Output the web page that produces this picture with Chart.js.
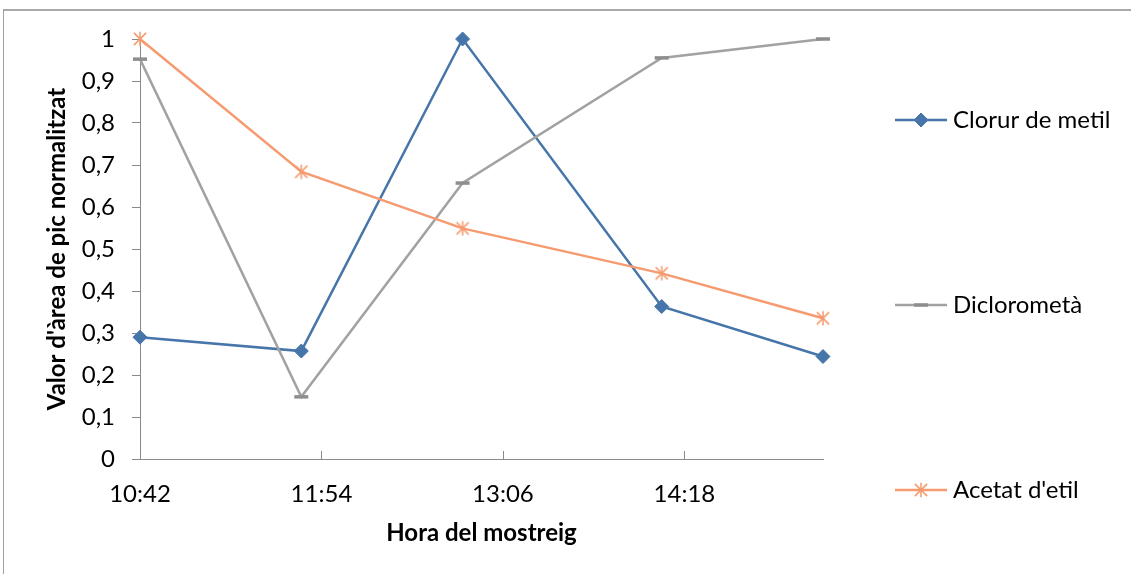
<!DOCTYPE html>
<html>
<head>
<meta charset="utf-8">
<script src="https://cdn.jsdelivr.net/npm/chart.js@4"></script>
<style>
  html, body { margin: 0; padding: 0; background: #fff; }
  #wrap { position: relative; width: 1131px; height: 574px; overflow: hidden; }
  #frame { position: absolute; left: 3px; top: 9px; width: 1200px; height: 700px;
           border-top: 2px solid #a9a9a9; border-left: 1px solid #a0a0a0; box-sizing: border-box; }
  canvas { position: absolute; left: 0; top: 0; }
</style>
</head>
<body>
<div id="wrap">
  <div id="frame"></div>
  <canvas id="c" width="1131" height="574"></canvas>
</div>
<script>
// Sampling times and normalised peak-area values per compound
const sampleTimes = ['10:42', '11:46', '12:50', '14:09', '15:13'];
const clorurMetil = [0.290, 0.257, 1.000, 0.363, 0.244];
const diclorometa = [0.952, 0.148, 0.657, 0.955, 1.000];
const acetatEtil  = [1.000, 0.684, 0.549, 0.442, 0.335];
const seriesNames = ['Clorur de metil', 'Diclorometà', "Acetat d'etil"];

// Axis tick labels
const xTickLabels = ['10:42', '11:54', '13:06', '14:18'];
const yTickLabels = ['0', '0,1', '0,2', '0,3', '0,4', '0,5', '0,6', '0,7', '0,8', '0,9', '1'];

const FONT = 'Lato';
const toMinutes = t => { const [h, m] = t.split(':').map(Number); return h * 60 + m; };
const toClock = v => { const h = Math.floor(v / 60), m = Math.round(v - h * 60); return h + ':' + String(m).padStart(2, '0'); };
const points = arr => arr.map((v, i) => ({ x: toMinutes(sampleTimes[i]), y: v }));

// Asterisk marker (X plus a vertical stroke)
function asteriskMarker(size, color) {
  const c = document.createElement('canvas');
  c.width = size; c.height = size;
  const g = c.getContext('2d');
  g.strokeStyle = color; g.lineWidth = 1.5;
  const m = size / 2, r = size / 2 - 0.8;
  g.beginPath();
  g.moveTo(m - r * 0.85, m - r * 0.85); g.lineTo(m + r * 0.85, m + r * 0.85);
  g.moveTo(m + r * 0.85, m - r * 0.85); g.lineTo(m - r * 0.85, m + r * 0.85);
  g.moveTo(m, m - r); g.lineTo(m, m + r);
  g.stroke();
  return c;
}

// Small tick marks pointing up into the plot from the x axis
const innerTicks = {
  id: 'innerTicks',
  beforeDatasetsDraw(chart, args, opts) {
    const { ctx, scales: { x }, chartArea } = chart;
    ctx.save();
    ctx.strokeStyle = opts.color; ctx.lineWidth = 1;
    x.ticks.forEach(t => {
      const px = Math.round(x.getPixelForValue(t.value)) + 0.5;
      ctx.beginPath();
      ctx.moveTo(px, chartArea.bottom);
      ctx.lineTo(px, chartArea.bottom - opts.length);
      ctx.stroke();
    });
    ctx.restore();
  }
};

// Legend stacked down the right-hand side
const sideLegend = {
  id: 'sideLegend',
  afterDraw(chart, args, opts) {
    const { ctx, chartArea } = chart;
    const x0 = chartArea.right + opts.offsetX;
    chart.data.datasets.forEach((ds, i) => {
      const y = chartArea.top + opts.firstRow + i * opts.rowGap;
      ctx.save();
      ctx.strokeStyle = ds.borderColor; ctx.lineWidth = ds.borderWidth;
      ctx.beginPath(); ctx.moveTo(x0, y); ctx.lineTo(x0 + opts.lineLength, y); ctx.stroke();
      ctx.fillStyle = ds.pointBackgroundColor; ctx.strokeStyle = ds.pointBorderColor;
      ctx.lineWidth = ds.pointBorderWidth;
      Chart.helpers.drawPoint(ctx, { pointStyle: ds.pointStyle, radius: ds.pointRadius,
        borderWidth: ds.pointBorderWidth, rotation: 0 }, x0 + opts.lineLength / 2, y);
      ctx.fillStyle = '#000';
      ctx.font = opts.font;
      ctx.textBaseline = 'middle'; ctx.textAlign = 'left';
      ctx.fillText(ds.label, x0 + opts.lineLength + opts.gap, y);
      ctx.restore();
    });
  }
};

function draw() {
  const BLUE = '#4675a9', GREY = '#a2a2a2', ORANGE = '#f69a6f';
  new Chart(document.getElementById('c'), {
    type: 'line',
    data: {
      datasets: [
        { label: seriesNames[0], data: points(clorurMetil), order: 3, clip: false,
          borderColor: BLUE, borderWidth: 2.5, pointStyle: 'rectRot', pointRadius: 7,
          pointBackgroundColor: BLUE, pointBorderColor: BLUE, pointBorderWidth: 1 },
        { label: seriesNames[1], data: points(diclorometa), order: 2, clip: false,
          borderColor: GREY, borderWidth: 2.5, pointStyle: 'line', pointRadius: 7,
          pointBackgroundColor: '#8e8e8e', pointBorderColor: '#8e8e8e', pointBorderWidth: 3.5 },
        { label: seriesNames[2], data: points(acetatEtil), order: 1, clip: false,
          borderColor: ORANGE, borderWidth: 2.5, pointStyle: asteriskMarker(16, '#f59a6e'), pointRadius: 8,
          pointBackgroundColor: ORANGE, pointBorderColor: ORANGE, pointBorderWidth: 1 }
      ]
    },
    options: {
      responsive: false,
      animation: false,
      devicePixelRatio: 1,
      layout: { padding: { top: 39, right: 308, bottom: 0, left: 0 } },
      plugins: {
        legend: { display: false },
        tooltip: { enabled: false },
        innerTicks: { color: '#8a8a8a', length: 8 },
        sideLegend: { offsetX: 72, firstRow: 81, rowGap: 185, lineLength: 52, gap: 6,
                      font: '24px ' + FONT }
      },
      elements: { line: { tension: 0 } },
      scales: {
        x: {
          type: 'linear',
          min: toMinutes(sampleTimes[0]),
          max: toMinutes(sampleTimes[sampleTimes.length - 1]),
          afterBuildTicks: s => { s.ticks = xTickLabels.map(l => ({ value: toMinutes(l) })); },
          afterFit: s => { s.height = 115; },
          ticks: { callback: v => toClock(v), autoSkip: false, maxRotation: 0,
                   color: '#000', padding: 21, font: { family: FONT, size: 24 } },
          grid: { drawOnChartArea: false, drawTicks: false },
          border: { color: '#8a8a8a', width: 1 },
          title: { display: true, text: 'Hora del mostreig', color: '#000',
                   font: { family: FONT, size: 24, weight: 'bold' }, padding: { top: 0, bottom: 26 } }
        },
        y: {
          min: 0, max: 1,
          afterBuildTicks: s => { s.ticks = yTickLabels.map(l => ({ value: parseFloat(l.replace(',', '.')) })); },
          afterFit: s => { s.width = 140; },
          ticks: { callback: (v, i) => yTickLabels[i], color: '#000', padding: 17,
                   font: { family: FONT, size: 24 } },
          grid: { drawOnChartArea: false, drawTicks: true, tickLength: 8, color: '#8a8a8a' },
          border: { color: '#8a8a8a', width: 1 },
          title: { display: true, text: "Valor d'àrea de pic normalitzat", color: '#000',
                   font: { family: FONT, size: 24, weight: 'bold' }, padding: { top: 43, bottom: 0 } }
        }
      }
    },
    plugins: [innerTicks, sideLegend]
  });
}

(document.fonts ? Promise.all([document.fonts.load('24px ' + FONT), document.fonts.load('bold 24px ' + FONT)]) : Promise.resolve())
  .then(draw, draw);
</script>
</body>
</html>
